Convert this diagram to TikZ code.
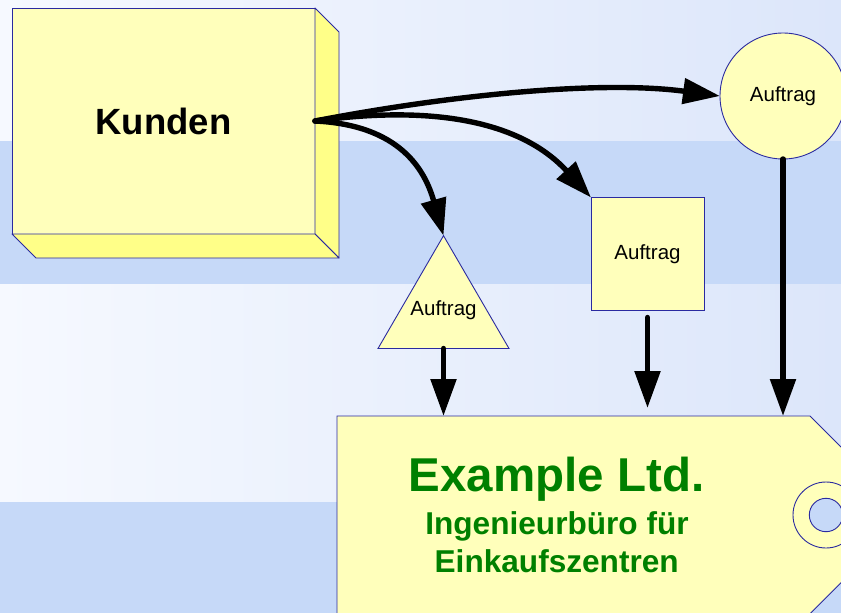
\documentclass[tikz,border=0pt]{standalone}
\usepackage{fontspec}
\setmainfont{Liberation Sans}
\usetikzlibrary{arrows.meta}
\definecolor{bandblue}{HTML}{C6D9F8}
\definecolor{lightL}{HTML}{F6F9FF}
\definecolor{lightR}{HTML}{DCE6FA}
\definecolor{paleyel}{HTML}{FFFFBB}
\definecolor{sideyel}{HTML}{FFFF88}
\definecolor{edgeblue}{HTML}{2A2AA0}
\definecolor{firmgreen}{HTML}{008000}

\begin{document}
\begin{tikzpicture}[x=1pt,y=-1pt,
  shapebox/.style={draw=edgeblue, line width=0.9pt, fill=paleyel, inner sep=0pt, outer sep=0pt},
  face/.style={draw=edgeblue, line width=0.9pt, fill=sideyel, line join=round},
  ordertext/.style={font=\fontsize{20.5}{24}\selectfont, text=black},
  flow/.style={line width=5.4pt, line cap=round, -{Triangle[length=37pt,width=25pt]}},
  firm/.style={text=firmgreen, anchor=base}]
\useasboundingbox (0,0) rectangle (841,613);

% background bands
\shade[left color=lightL, right color=lightR] (0,0) rectangle (841,141);
\fill[bandblue] (0,141) rectangle (841,284);
\shade[left color=lightL, right color=lightR] (0,284) rectangle (841,502);
\fill[bandblue] (0,502) rectangle (841,613);

% company tag
\coordinate (tagNW) at (337,416);
\draw[shapebox] (tagNW) -- (810,416) -- (908.85,514.85) -- (804.7,619) -- (337,619) -- cycle;
\draw[edgeblue, line width=0.9pt] (826,515) circle[radius=33];
\draw[edgeblue, line width=0.9pt, fill=bandblue] (826,515) circle[radius=16.7];
\node[firm, font=\bfseries\fontsize{47.5}{50}\selectfont] (firmname) at (556.5,491) {Example Ltd.};
\node[firm, font=\bfseries\fontsize{31.6}{34}\selectfont] (firmline1) at (557,534) {Ingenieurbüro für};
\node[firm, font=\bfseries\fontsize{31.6}{34}\selectfont] (firmline2) at (556.7,572.7) {Einkaufszentren};

% customer block with extruded faces
\node[shapebox, minimum width=303pt, minimum height=226pt,
      font=\bfseries\fontsize{36.5}{40}\selectfont] (kunden) at (163.5,121) {Kunden};
\draw[face] (kunden.north east) -- ++(24,24) -- ++(0,226) -- (kunden.south east) -- cycle;
\draw[face] (kunden.south west) -- ++(24,24) -- ++(303,0) -- (kunden.south east) -- cycle;

% order shapes
\node[shapebox, circle, minimum size=126pt, ordertext] (ordC) at (783,96) {Auftrag};
\node[shapebox, minimum size=113pt, ordertext] (ordS) at (647.5,254) {Auftrag};
\coordinate (triTop) at (443.5,235.7);
\coordinate (triBase) at (443.5,348.5);
\draw[shapebox] (triTop) -- (509,348.5) -- (378,348.5) -- cycle;
\node[ordertext] (ordT) at (443.5,310) {Auftrag};

% flows from the customers
\draw[flow] (kunden.east) .. controls (450,95) and (600,80) .. (ordC.west);
\draw[flow] (kunden.east) .. controls (430,105) and (520,120) .. (ordS.north west);
\draw[flow] (kunden.east) .. controls (400,125) and (425,170) .. (triTop);

% flows into the company
\draw[flow] (triBase) -- (triBase |- tagNW);
\draw[flow, shorten <=7pt] (ordS.south) -- ([yshift=8pt]ordS.south |- tagNW);
\draw[flow] (ordC.south) -- (ordC.south |- tagNW);
\end{tikzpicture}
\end{document}
